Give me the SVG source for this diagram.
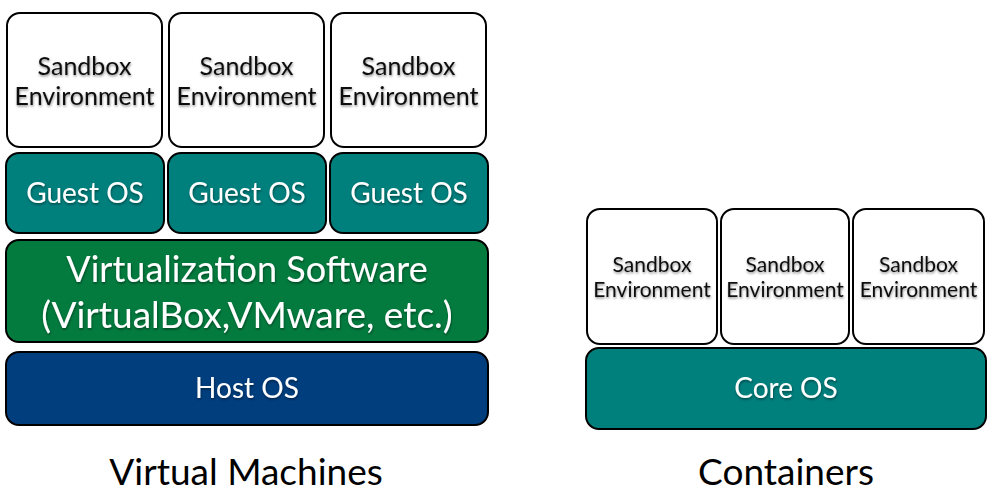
<svg xmlns="http://www.w3.org/2000/svg" width="992" height="495" viewBox="0 0 992 495">
<defs>
<filter id="sh" x="-10%" y="-30%" width="120%" height="160%">
<feDropShadow dx="0.5" dy="1.5" stdDeviation="1.2" flood-color="#000" flood-opacity="0.45"/>
</filter>
<style>
rect{stroke:#000;stroke-width:2}
.sb{fill:#fff}
.teal{fill:#00807d}
.green{fill:#037b3e}
.blue{fill:#003e7e}
text{font-family:Lato,"Open Sans","DejaVu Sans",sans-serif;text-anchor:middle}
.dk{fill:#111;filter:url(#sh)}
.lt{fill:#fff;filter:url(#sh)}
.cap{fill:#000;font-size:37px}
</style>
</defs>
<g id="vm-sandbox-1"><rect class="sb" x="7" y="13" width="155" height="134" rx="13"/><text class="dk" x="84.5" y="75" font-size="25">Sandbox</text><text class="dk" x="84.5" y="105" font-size="25">Environment</text></g>
<g id="vm-sandbox-2"><rect class="sb" x="169" y="13" width="155" height="134" rx="13"/><text class="dk" x="246.5" y="75" font-size="25">Sandbox</text><text class="dk" x="246.5" y="105" font-size="25">Environment</text></g>
<g id="vm-sandbox-3"><rect class="sb" x="331" y="13" width="155" height="134" rx="13"/><text class="dk" x="408.5" y="75" font-size="25">Sandbox</text><text class="dk" x="408.5" y="105" font-size="25">Environment</text></g>
<g id="guest-os-1"><rect class="teal" x="6" y="153" width="158" height="80" rx="13"/><text class="lt" x="85" y="203" font-size="28">Guest OS</text></g>
<g id="guest-os-2"><rect class="teal" x="168" y="153" width="158" height="80" rx="13"/><text class="lt" x="247" y="203" font-size="28">Guest OS</text></g>
<g id="guest-os-3"><rect class="teal" x="330" y="153" width="158" height="80" rx="13"/><text class="lt" x="409" y="203" font-size="28">Guest OS</text></g>
<g id="virtualization"><rect class="green" x="6" y="240" width="482" height="102" rx="13"/><text class="lt" x="247" y="282" font-size="36">Virtualization Software</text><text class="lt" x="247" y="328" font-size="37">(VirtualBox,VMware, etc.)</text></g>
<g id="host-os"><rect class="blue" x="6" y="352" width="482" height="73" rx="13"/><text class="lt" x="247" y="398" font-size="28">Host OS</text></g>
<g id="ct-sandbox-1"><rect class="sb" x="587" y="209" width="130" height="135" rx="13"/><text class="dk" x="652" y="272" font-size="21">Sandbox</text><text class="dk" x="652" y="297" font-size="21">Environment</text></g>
<g id="ct-sandbox-2"><rect class="sb" x="721" y="209" width="128" height="135" rx="13"/><text class="dk" x="785" y="272" font-size="21">Sandbox</text><text class="dk" x="785" y="297" font-size="21">Environment</text></g>
<g id="ct-sandbox-3"><rect class="sb" x="853" y="209" width="131" height="135" rx="13"/><text class="dk" x="918.5" y="272" font-size="21">Sandbox</text><text class="dk" x="918.5" y="297" font-size="21">Environment</text></g>
<g id="core-os"><rect class="teal" x="586" y="348" width="400" height="81" rx="13"/><text class="lt" x="786" y="398" font-size="28">Core OS</text></g>
<g id="connectors"/>
<g id="captions"><text class="cap" x="246" y="485">Virtual Machines</text><text class="cap" x="786" y="485">Containers</text></g>
</svg>
